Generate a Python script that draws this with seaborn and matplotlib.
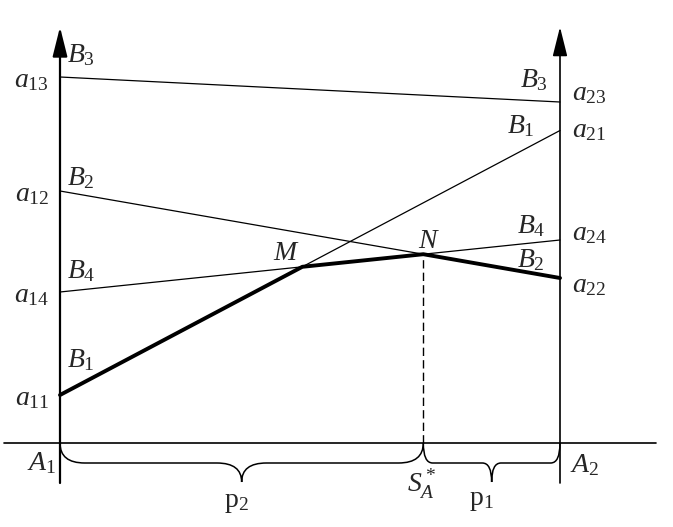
import numpy as np
import pandas as pd
import matplotlib
matplotlib.use("Agg")
import matplotlib.pyplot as plt
from matplotlib.path import Path
from matplotlib.patches import PathPatch
import seaborn as sns

sns.set_style("white")
plt.rcParams.update({
    "mathtext.fontset": "custom",
    "mathtext.rm": "Liberation Serif",
    "mathtext.it": "Liberation Serif:italic",
    "font.family": ["Liberation Serif", "DejaVu Serif"],
})

# Payoff lines of player B's strategies: value at A1 (p=0) and at A2 (p=1)
strategies = ["B1", "B2", "B3", "B4"]
left_vals = [0.96, 5.04, 7.32, 3.02]   # a11, a12, a13, a14
right_vals = [6.25, 3.3, 6.82, 4.06]   # a21, a22, a23, a24
left_names = ["a_{11}", "a_{12}", "a_{13}", "a_{14}"]


def line_at(i, x):
    return left_vals[i] + (right_vals[i] - left_vals[i]) * x


def intersect(i, j):
    di = right_vals[i] - left_vals[i]
    dj = right_vals[j] - left_vals[j]
    x = (left_vals[j] - left_vals[i]) / (di - dj)
    return x, line_at(i, x)


# pixel -> data helper for annotation placement
def px(x, y):
    return (x - 60) / 500, (443 - y) / 50


fig = plt.figure(figsize=(6.73, 5.27), dpi=100)
ax = fig.add_axes([0, 0, 1, 1])
ax.set_xlim(-60 / 500, (673 - 60) / 500)
ax.set_ylim((443 - 527) / 50, 443 / 50)
ax.axis("off")

df = pd.DataFrame({
    "strategy": np.repeat(strategies, 2),
    "p": [0, 1] * len(strategies),
    "payoff": [v for pair in zip(left_vals, right_vals) for v in pair],
})
sns.lineplot(data=df, x="p", y="payoff", hue="strategy", palette=["black"] * 4,
             legend=False, lw=0.9, sort=False, ax=ax)

# lower envelope B1 -> M -> N -> B2
xm, ym = intersect(0, 3)
xn, yn = intersect(3, 1)
env_x = [0, xm, xn, 1]
env_y = [left_vals[0], ym, yn, right_vals[1]]
sns.lineplot(x=env_x, y=env_y, color="black", lw=2.8, sort=False, ax=ax)

# dashed drop from N
ax.plot([xn, xn], [0, yn], color="black", lw=1.0, dashes=(6, 3))

# axes
y_bot, y_top = px(0, 483)[1], px(0, 27)[1]
for xa, lw in [(0, 1.6), (1, 1.2)]:
    ax.annotate("", xy=(xa, y_top), xytext=(xa, y_bot),
                arrowprops=dict(arrowstyle="-|>,head_length=1.8,head_width=0.45",
                                mutation_scale=10, lw=lw, color="black",
                                shrinkA=0, shrinkB=0))
ax.plot([px(4, 0)[0], px(656, 0)[0]], [0, 0], color="black", lw=1.2)


def brace(x0, x1, depth=0.4, tip=0.78, frac=0.068):
    mid = (x0 + x1) / 2
    w = (x1 - x0) * frac
    verts = [(x0, 0), (x0, -depth), (x0 + w, -depth), (mid - w, -depth),
             (mid, -depth), (mid, -tip), (mid, -depth), (mid + w, -depth),
             (x1 - w, -depth), (x1, -depth), (x1, 0)]
    codes = [Path.MOVETO, Path.CURVE3, Path.CURVE3, Path.LINETO,
             Path.CURVE3, Path.CURVE3, Path.CURVE3, Path.CURVE3,
             Path.LINETO, Path.CURVE3, Path.CURVE3]
    ax.add_patch(PathPatch(Path(verts, codes), fill=False, lw=1.1, color="black"))


brace(0, xn)
brace(xn, 1)

fs = 20
# left side labels
for i, name in enumerate(left_names):
    ax.text(px(49, 0)[0], left_vals[i] - 10 / 50, f"${name}$",
            ha="right", va="baseline", fontsize=fs)
left_b = {"B_3": 62, "B_2": 185, "B_4": 278, "B_1": 367}
for name, by in left_b.items():
    ax.text(*px(67, by), f"${name}$", ha="left", va="baseline", fontsize=fs)

# right side labels
right_a = {"a_{23}": 100, "a_{21}": 137, "a_{24}": 240, "a_{22}": 292}
for name, by in right_a.items():
    ax.text(*px(572, by), f"${name}$", ha="left", va="baseline", fontsize=fs)
right_b = {"B_3": (520, 87), "B_1": (507, 133), "B_4": (517, 233), "B_2": (517, 267)}
for name, (bx, by) in right_b.items():
    ax.text(*px(bx, by), f"${name}$", ha="left", va="baseline", fontsize=fs)

ax.text(*px(273, 260), "$M$", ha="left", va="baseline", fontsize=fs)
ax.text(*px(418, 248), "$N$", ha="left", va="baseline", fontsize=fs)
ax.text(*px(27, 470), "$A_1$", ha="left", va="baseline", fontsize=fs)
ax.text(*px(570, 472), "$A_2$", ha="left", va="baseline", fontsize=fs)
ax.text(*px(407, 492), "$S_A^*$", ha="left", va="baseline", fontsize=fs)
ax.text(*px(236, 507), r"$\mathrm{p}_2$", ha="center", va="baseline", fontsize=fs)
ax.text(*px(481, 505), r"$\mathrm{p}_1$", ha="center", va="baseline", fontsize=fs)

fig.savefig("out.png", dpi=100)
